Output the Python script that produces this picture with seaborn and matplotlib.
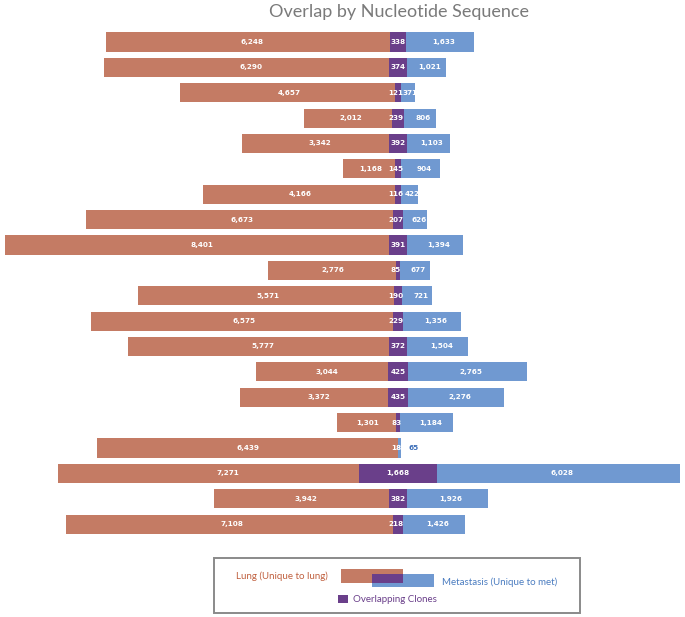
import matplotlib

matplotlib.use("Agg")
import matplotlib.pyplot as plt
import pandas as pd
import seaborn as sns
from matplotlib.patches import Rectangle

# values per sample, top to bottom
lung = [6248, 6290, 4657, 2012, 3342, 1168, 4166, 6673, 8401, 2776,
        5571, 6575, 5777, 3044, 3372, 1301, 6439, 7271, 3942, 7108]
overlap = [338, 374, 121, 239, 392, 145, 116, 207, 391, 85,
           190, 229, 372, 425, 435, 83, 18, 1668, 382, 218]
met = [1633, 1021, 371, 806, 1103, 904, 422, 626, 1394, 677,
       721, 1356, 1504, 2765, 2276, 1184, 65, 6028, 1926, 1426]
rows = [f"s{i + 1}" for i in range(len(lung))]

LUNG_C = "#c47b64"
MET_C = "#7099d1"
OV_C = "#6a3f8a"

W, H = 685, 617
XMIN, XMAX = -8517, 6142

df = pd.DataFrame({"row": rows, "lung": lung, "overlap": overlap, "met": met})
df["lung_neg"] = -df["lung"]
df["ov_half"] = df["overlap"] / 2
df["ov_half_neg"] = -df["overlap"] / 2

sns.set_theme(style="white")
fig = plt.figure(figsize=(W / 100, H / 100), dpi=100)
ax = fig.add_axes([0, 0, 1, 1])

common = dict(y="row", orient="h", width=0.75, saturation=1, errorbar=None, linewidth=0, ax=ax)
sns.barplot(data=df, x="lung_neg", color=LUNG_C, **common)
sns.barplot(data=df, x="met", color=MET_C, **common)
sns.barplot(data=df, x="ov_half", color=OV_C, **common)
sns.barplot(data=df, x="ov_half_neg", color=OV_C, **common)

ax.set_xlim(XMIN, XMAX)
ax.set_ylim(22.66, -1.655)
ax.axis("off")

lab = dict(color="white", fontsize=5.2, fontweight="bold", va="center", ha="center")
for i, r in df.iterrows():
    half = r["overlap"] / 2
    ax.text(-r["lung"] / 2, i, f"{r['lung']:,}", **lab)
    ax.text(-40 if r["overlap"] < 300 else 0, i, f"{r['overlap']:,}", **lab)
    if r["met"] > 200:
        mx = min((half + min(r["met"], XMAX)) / 2 + 80, r["met"] - 120)
        ax.text(mx, i, f"{r['met']:,}", **lab)
    else:
        ax.text(max(r["met"], half) + 150, i, f"{r['met']:,}", color="#3d6fb8",
                fontsize=5.2, fontweight="bold", va="center", ha="left")

fig.text(399 / W, 1 - 12 / H, "Overlap by Nucleotide Sequence", ha="center", va="center",
         fontsize=13, color="#7a7a7a", family="Lato")


# legend box, drawn in figure pixels
def px_rect(x0, y0, x1, y1, **kw):
    fig.patches.append(Rectangle((x0 / W, 1 - y1 / H), (x1 - x0) / W, (y1 - y0) / H,
                                 transform=fig.transFigure, **kw))


px_rect(214, 558, 580, 613, facecolor="white", edgecolor="#8a8a8a", linewidth=1.4)
px_rect(341, 569, 403, 583, facecolor=LUNG_C, edgecolor="none")
px_rect(372, 574, 434, 587, facecolor=MET_C, edgecolor="none")
px_rect(372, 574, 403, 583, facecolor=OV_C, edgecolor="none")
px_rect(338, 595, 348, 603, facecolor=OV_C, edgecolor="none")

leg = dict(fontsize=7, family="Lato", va="center")
fig.text(236 / W, 1 - 576 / H, "Lung (Unique to lung)", color="#c0603f", ha="left", **leg)
fig.text(442 / W, 1 - 582 / H, "Metastasis (Unique to met)", color="#4a7cc0", ha="left", **leg)
fig.text(353 / W, 1 - 599 / H, "Overlapping Clones", color=OV_C, ha="left", **leg)

fig.savefig("out.png", dpi=100)
